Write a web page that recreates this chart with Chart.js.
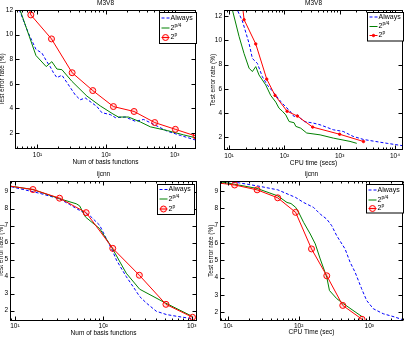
<!DOCTYPE html>
<html>
<head>
<meta charset="utf-8">
<title>Test error rate - M3V8 / ijcnn</title>
<script src="https://cdn.jsdelivr.net/npm/chart.js@4.4.0/dist/chart.umd.min.js"></script>
<style>
    html, body { margin: 0; padding: 0; background: #fff; }
    body { position: relative; width: 408px; height: 338px; overflow: hidden; }
    canvas { position: absolute; }
</style>
</head>
<body>
<canvas id="m3v8Basis" width="208" height="169" style="left:-4px;top:0px"></canvas>
<canvas id="m3v8Time" width="204" height="169" style="left:204px;top:0px"></canvas>
<canvas id="ijcnnBasis" width="208" height="169" style="left:-4px;top:169px"></canvas>
<canvas id="ijcnnTime" width="204" height="169" style="left:204px;top:169px"></canvas>
<script>
// Series names (base text, superscript part)
const legendLabels = [['Always', ''], ['2', 'p/4'], ['2', 'p']];

// M3V8 - error vs number of basis functions
const m3v8BasisAlwaysX = [4, 7.4, 9.5, 11.6, 13.7, 15.3, 17.1, 19.2, 22.7, 26.9, 35.5, 42, 49.7, 62.3, 73.6, 87, 115, 137, 191, 267, 354, 496, 778, 1217, 2048];
const m3v8BasisAlwaysY = [13.9, 10.1, 8.8, 8.5, 7.8, 7.4, 6.9, 6.5, 6.7, 6.1, 5.1, 4.7, 4.85, 4.45, 4.15, 3.65, 3.5, 3.25, 3.3, 2.95, 3.1, 2.7, 2.15, 1.8, 1.42];
const m3v8BasisP4X = [4, 9.5, 13.4, 16.2, 19.2, 22.7, 31.8, 52.6, 82.4, 126, 151, 213, 316, 443, 778, 1346, 2048];
const m3v8BasisP4Y = [14.3, 8.3, 7.4, 7.8, 7.2, 7.15, 6.2, 5.0, 4.2, 3.55, 3.3, 3.3, 2.9, 2.5, 2.2, 1.85, 1.6];
const m3v8BasisPX = [4, 8, 16, 32, 64, 128, 256, 512, 1024, 2048];
const m3v8BasisPY = [18, 11.6, 9.65, 6.9, 5.45, 4.15, 3.75, 2.85, 2.3, 1.75];

// M3V8 - error vs CPU time
const m3v8TimeAlwaysX = [8, 14.1, 17.4, 23, 26.4, 32.5, 40, 49.3, 65, 86, 106, 122, 150, 172, 192, 227, 334, 443, 768, 1160, 1760, 2700, 4500, 7240, 14000];
const m3v8TimeAlwaysY = [15.5, 12.5, 11.6, 9.75, 8.5, 8.1, 7.0, 6.3, 5.65, 4.95, 4.5, 4.25, 3.7, 3.85, 3.6, 3.3, 3.17, 3.03, 2.62, 2.48, 2.07, 1.82, 1.65, 1.5, 1.3];
const m3v8TimeP4X = [8, 11.5, 15.2, 18.7, 23, 26.4, 30.4, 34.8, 46, 56.7, 70, 80, 92, 106, 122, 150, 161, 198, 254, 443, 770, 1540, 2040];
const m3v8TimeP4Y = [17, 12.5, 10.3, 8.9, 7.7, 7.42, 7.83, 7.14, 6.32, 5.45, 4.9, 4.4, 4.15, 3.85, 3.3, 3.2, 2.9, 2.75, 2.35, 2.2, 1.93, 1.66, 1.5];
const m3v8TimePX = [13, 18.7, 30.4, 48, 68, 112, 172, 325, 1000, 2700];
const m3v8TimePY = [18, 11.7, 9.7, 6.8, 5.45, 4.15, 3.75, 2.84, 2.25, 1.65];

// ijcnn - error vs number of basis functions
const ijcnnBasisAlwaysX = [8, 19, 32, 41.6, 54, 70, 91, 108, 126, 141, 182, 217, 258, 307, 399, 519, 673, 1010];
const ijcnnBasisAlwaysY = [9.35, 8.9, 8.57, 8.24, 7.89, 7.6, 7.02, 6.24, 5.56, 4.97, 4.0, 3.42, 2.83, 2.45, 1.96, 1.77, 1.67, 1.53];
const ijcnnBasisP4X = [8, 16, 32, 49.5, 54, 63, 91, 125, 182, 258, 505, 1010];
const ijcnnBasisP4Y = [9.35, 9.12, 8.58, 8.28, 8.16, 7.5, 6.82, 5.71, 4.2, 3.26, 2.45, 1.67];
const ijcnnBasisPX = [8, 16, 32, 64, 128, 256, 512, 1024];
const ijcnnBasisPY = [9.35, 9.12, 8.61, 7.76, 5.66, 4.08, 2.37, 1.61];

// ijcnn - error vs CPU time
const ijcnnTimeAlwaysX = [6, 13.5, 25.8, 50.6, 90.6, 117.6, 162, 202, 250, 294, 346, 454, 535, 629, 779, 916, 1138, 1574, 2300, 2945];
const ijcnnTimeAlwaysY = [9.6, 9.48, 9.29, 9.06, 8.62, 8.33, 8.05, 7.66, 7.37, 6.99, 6.41, 5.65, 4.88, 4.31, 3.35, 2.68, 2.2, 1.91, 1.72, 1.57];
const ijcnnTimeP4X = [6, 12.4, 25.8, 50.6, 68.4, 77.9, 90.6, 100, 117.6, 146, 172, 202, 250, 273, 346, 430, 804];
const ijcnnTimeP4Y = [9.6, 9.38, 9.14, 8.71, 8.33, 8.27, 8.05, 7.76, 7.18, 6.51, 5.94, 5.07, 4.02, 3.25, 2.78, 2.49, 1.72];
const ijcnnTimePX = [6, 12.4, 25.8, 50.5, 90.6, 152, 250, 421, 789];
const ijcnnTimePY = [9.5, 9.34, 9.06, 8.6, 7.76, 5.65, 4.1, 2.39, 1.59];

// Tick values
const m3v8ErrorTicks = [2, 4, 6, 8, 10, 12];
const ijcnnErrorTicks = [2, 3, 4, 5, 6, 7, 8, 9];
const decadeTicks = [10, 100, 1000];
const decadeTicksWide = [10, 100, 1000, 10000];

const FONT = '"Liberation Sans", Arial, sans-serif';
const supDigits = ['⁰', '¹', '²', '³', '⁴', '⁵'];

function pts(xs, ys) {
    return xs.map((x, i) => ({ x: x, y: ys[i] }));
}

// frame, inward ticks, title and legend, drawn like matplotlib
function decorPlugin(cfg) {
    return {
        id: 'decor',
        afterDraw(chart) {
            const ctx = chart.ctx;
            const a = chart.chartArea;
            const xs = chart.scales.x;
            const ys = chart.scales.y;
            const L = Math.round(a.left) + 0.5, R = Math.round(a.right) - 0.5;
            const T = Math.round(a.top) + 0.5, B = Math.round(a.bottom) - 0.5;
            ctx.save();
            ctx.strokeStyle = '#000';
            ctx.lineWidth = 1;
            ctx.beginPath();
            const d0 = Math.floor(Math.log10(xs.min)), d1 = Math.ceil(Math.log10(xs.max));
            for (let d = d0; d <= d1; d++) {
                for (let m = 1; m < 10; m++) {
                    const v = m * Math.pow(10, d);
                    if (v < xs.min || v > xs.max) continue;
                    const px = Math.round(xs.getPixelForValue(v)) + 0.5;
                    const len = m === 1 ? 4 : 2;
                    ctx.moveTo(px, B); ctx.lineTo(px, B - len);
                    ctx.moveTo(px, T); ctx.lineTo(px, T + len);
                }
            }
            ys.ticks.forEach(t => {
                const py = Math.round(ys.getPixelForValue(t.value)) + 0.5;
                ctx.moveTo(L, py); ctx.lineTo(L + 4, py);
                ctx.moveTo(R, py); ctx.lineTo(R - 4, py);
            });
            ctx.stroke();
            ctx.strokeRect(L, T, R - L, B - T);

            // panel title
            ctx.fillStyle = '#000';
            ctx.font = '6.5px ' + FONT;
            ctx.textAlign = 'center';
            ctx.textBaseline = 'middle';
            ctx.fillText(cfg.title, (a.left + a.right) / 2, a.top - 6.5);

            // legend
            const lg = cfg.legend;
            const bx = Math.round(a.right - lg.inRight - lg.w) + 0.5;
            const by = Math.round(a.top + lg.inTop) + 0.5;
            ctx.fillStyle = '#fff';
            ctx.fillRect(bx, by, lg.w, lg.h);
            ctx.strokeStyle = '#000';
            ctx.strokeRect(bx, by, lg.w, lg.h);
            chart.data.datasets.forEach((ds, i) => {
                const cy = by + lg.rows[i];
                ctx.strokeStyle = ds.borderColor;
                ctx.setLineDash(ds.borderDash || []);
                ctx.beginPath();
                ctx.moveTo(bx + 2, cy);
                ctx.lineTo(bx + 10, cy);
                ctx.stroke();
                ctx.setLineDash([]);
                if (ds.pointRadius > 0) {
                    ctx.beginPath();
                    ctx.arc(bx + 6, cy, ds.pointRadius, 0, 2 * Math.PI);
                    ctx.fillStyle = ds.pointBackgroundColor;
                    ctx.fill();
                    ctx.stroke();
                }
                ctx.fillStyle = '#000';
                ctx.textAlign = 'left';
                ctx.font = '7px ' + FONT;
                const base = legendLabels[i][0], exp = legendLabels[i][1];
                ctx.fillText(base, bx + 11, cy);
                if (exp) {
                    const w = ctx.measureText(base).width;
                    ctx.font = '5px ' + FONT;
                    ctx.fillText(exp, bx + 11 + w, cy - 2.5);
                }
            });
            ctx.restore();
        }
    };
}

function makePanel(cfg) {
    const ctx = document.getElementById(cfg.id).getContext('2d');
    const font = { family: FONT, size: 6.5 };
    return new Chart(ctx, {
        type: 'scatter',
        data: {
            datasets: [
                {
                    label: 'Always',
                    data: pts(cfg.alwaysX, cfg.alwaysY),
                    borderColor: '#0000ff',
                    borderWidth: 1,
                    borderDash: [3, 2],
                    pointRadius: 0,
                    showLine: true,
                    order: 3
                },
                {
                    label: '2^{p/4}',
                    data: pts(cfg.p4X, cfg.p4Y),
                    borderColor: '#008000',
                    borderWidth: 1,
                    pointRadius: 0,
                    showLine: true,
                    order: 2
                },
                {
                    label: '2^p',
                    data: pts(cfg.pX, cfg.pY),
                    borderColor: '#ff0000',
                    borderWidth: 1,
                    pointRadius: cfg.markerRadius,
                    pointBorderWidth: 1,
                    pointBorderColor: '#ff0000',
                    pointBackgroundColor: cfg.markerFill,
                    showLine: true,
                    order: 1
                }
            ]
        },
        options: {
            responsive: false,
            animation: false,
            devicePixelRatio: 1,
            layout: { padding: { top: cfg.padTop, right: cfg.padRight, left: 0, bottom: 0 } },
            plugins: {
                legend: { display: false },
                tooltip: { enabled: false }
            },
            scales: {
                x: {
                    type: 'logarithmic',
                    min: cfg.xMin,
                    max: cfg.xMax,
                    grid: { display: false, drawTicks: false },
                    border: { display: false },
                    ticks: {
                        autoSkip: false,
                        maxRotation: 0,
                        padding: 2,
                        color: '#000',
                        font: font,
                        callback: v => '10' + supDigits[Math.round(Math.log10(v))]
                    },
                    title: {
                        display: true,
                        text: cfg.xTitle,
                        color: '#000',
                        font: font,
                        padding: { top: 0, bottom: cfg.xTitlePad }
                    },
                    afterBuildTicks: s => { s.ticks = cfg.xTicks.map(v => ({ value: v })); },
                    afterFit: s => { s.height = cfg.xHeight; }
                },
                y: {
                    type: 'linear',
                    min: cfg.yMin,
                    max: cfg.yMax,
                    grid: { display: false, drawTicks: false },
                    border: { display: false },
                    ticks: {
                        autoSkip: false,
                        padding: 2,
                        color: '#000',
                        font: font
                    },
                    title: {
                        display: true,
                        text: 'Test error rate (%)',
                        color: '#000',
                        font: font,
                        padding: { top: cfg.yTitlePad, bottom: 0 }
                    },
                    afterBuildTicks: s => { s.ticks = cfg.yTicks.map(v => ({ value: v })); },
                    afterFit: s => { s.width = cfg.yWidth; }
                }
            }
        },
        plugins: [decorPlugin(cfg)]
    });
}

document.addEventListener('DOMContentLoaded', function() {
    const openCircle = 'rgba(255, 0, 0, 0.12)';

    // M3V8: number of basis functions
    makePanel({
        id: 'm3v8Basis', title: 'M3V8', xTitle: 'Num of basis functions',
        alwaysX: m3v8BasisAlwaysX, alwaysY: m3v8BasisAlwaysY,
        p4X: m3v8BasisP4X, p4Y: m3v8BasisP4Y, pX: m3v8BasisPX, pY: m3v8BasisPY,
        xMin: 4.7, xMax: 2048, yMin: 0.7, yMax: 12,
        xTicks: decadeTicks, yTicks: m3v8ErrorTicks,
        markerRadius: 3, markerFill: openCircle,
        yWidth: 19, xHeight: 20, padTop: 10, padRight: 8, yTitlePad: 2, xTitlePad: 2.4,
        legend: { w: 37, h: 31, inRight: 0, inTop: 1.5, rows: [5.5, 15.5, 25] }
    });

    // M3V8: CPU time
    makePanel({
        id: 'm3v8Time', title: 'M3V8', xTitle: 'CPU time (secs)',
        alwaysX: m3v8TimeAlwaysX, alwaysY: m3v8TimeAlwaysY,
        p4X: m3v8TimeP4X, p4Y: m3v8TimeP4Y, pX: m3v8TimePX, pY: m3v8TimePY,
        xMin: 8.1, xMax: 14000, yMin: 0.95, yMax: 12.5,
        xTicks: decadeTicksWide, yTicks: m3v8ErrorTicks,
        markerRadius: 1.2, markerFill: '#ff0000',
        yWidth: 20, xHeight: 19, padTop: 10, padRight: 1, yTitlePad: 5, xTitlePad: 1.8,
        legend: { w: 36, h: 28.5, inRight: 0, inTop: 1.5, rows: [4.5, 14, 23] }
    });

    // ijcnn: number of basis functions
    makePanel({
        id: 'ijcnnBasis', title: 'ijcnn', xTitle: 'Num of basis functions',
        alwaysX: ijcnnBasisAlwaysX, alwaysY: ijcnnBasisAlwaysY,
        p4X: ijcnnBasisP4X, p4Y: ijcnnBasisP4Y, pX: ijcnnBasisPX, pY: ijcnnBasisPY,
        xMin: 8.8, xMax: 1150, yMin: 1.42, yMax: 9.62,
        xTicks: decadeTicks, yTicks: ijcnnErrorTicks,
        markerRadius: 3, markerFill: openCircle,
        yWidth: 14, xHeight: 17.5, padTop: 12, padRight: 7, yTitlePad: 1.6, xTitlePad: 0.8,
        legend: { w: 37, h: 30, inRight: 3.5, inTop: 3, rows: [5, 14.5, 24.5] }
    });

    // ijcnn: CPU time
    makePanel({
        id: 'ijcnnTime', title: 'ijcnn', xTitle: 'CPU Time (sec)',
        alwaysX: ijcnnTimeAlwaysX, alwaysY: ijcnnTimeAlwaysY,
        p4X: ijcnnTimeP4X, p4Y: ijcnnTimeP4Y, pX: ijcnnTimePX, pY: ijcnnTimePY,
        xMin: 7.7, xMax: 3000, yMin: 1.52, yMax: 9.57,
        xTicks: decadeTicks, yTicks: ijcnnErrorTicks,
        markerRadius: 3, markerFill: openCircle,
        yWidth: 16, xHeight: 17.5, padTop: 12, padRight: 0, yTitlePad: 3, xTitlePad: 1.4,
        legend: { w: 37, h: 28.5, inRight: 0.5, inTop: 3, rows: [5.5, 15.5, 24] }
    });
});
</script>
</body>
</html>
